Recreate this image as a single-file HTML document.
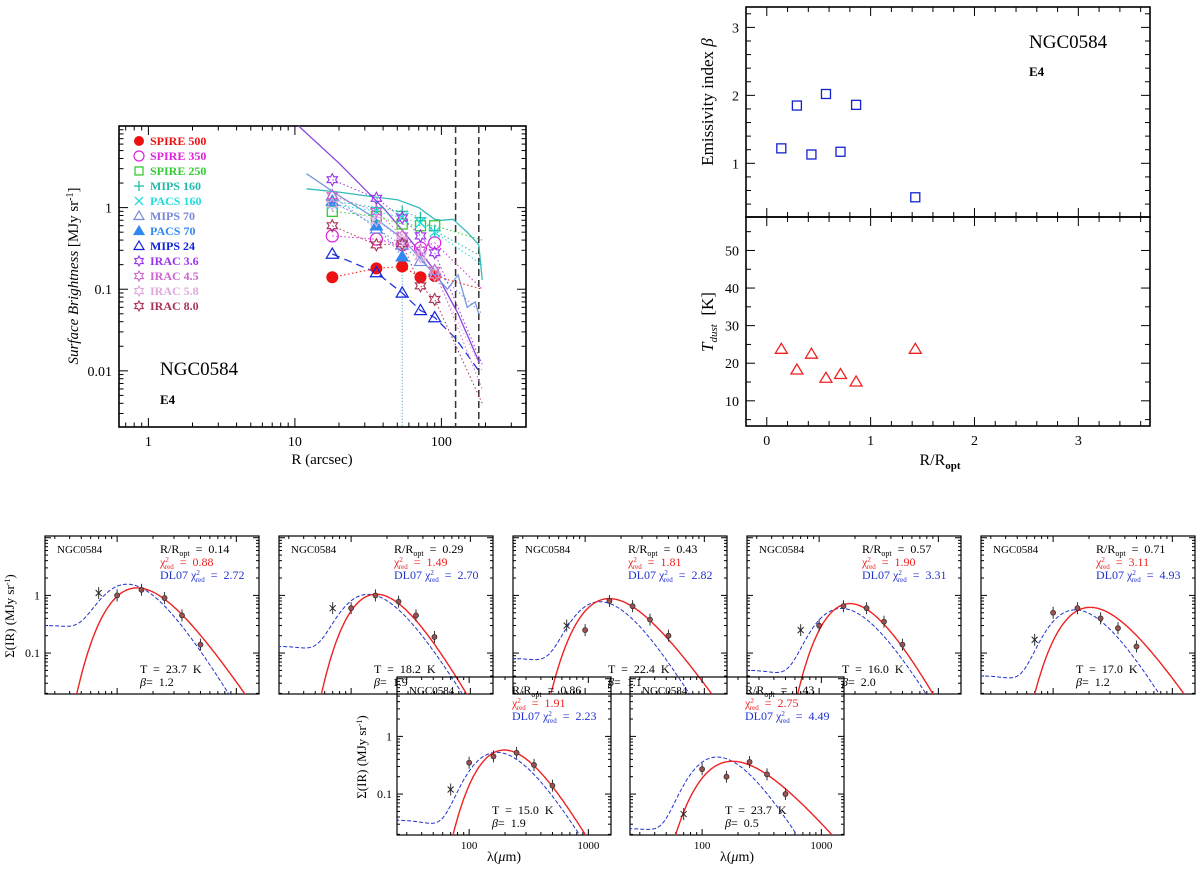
<!DOCTYPE html>
<html><head><meta charset="utf-8"><style>
html,body{margin:0;padding:0;background:#fff;overflow:hidden;width:1200px;height:869px}
svg{display:block}
text{font-family:"Liberation Serif",serif;white-space:pre}
</style></head><body>
<svg id="fig" width="1200" height="869" viewBox="0 0 1200 869" xmlns="http://www.w3.org/2000/svg"></svg>
<script>
// ---------- Left panel: radial profiles ----------
const profRadii = [18, 36, 54, 72, 90];
const spire500 = [0.14, 0.18, 0.19, 0.14, 0.145];
const spire350 = [0.45, 0.41, 0.35, 0.32, 0.37];
const spire250 = [0.9, 0.78, 0.63, 0.6, 0.6];
const mips160 = [1.2, 1.0, 0.9, 0.75, 0.52];
const pacs160 = [1.1, 0.9, 0.75, 0.65, 0.5];
const mips70 = [1.4, 0.55, 0.35, 0.22, 0.17];
const pacs70 = [1.2, 0.6, 0.25];
const mips24 = [0.27, 0.16, 0.09, 0.055, 0.045];
const irac36 = [2.2, 1.3, 0.75, 0.45, 0.28];
const irac45 = [1.4, 0.9, 0.45, 0.3, 0.17];
const irac58 = [1.1, 0.7, 0.4, 0.25, 0.15];
const irac80 = [0.6, 0.35, 0.36, 0.11, 0.075];
const purpleCurveR = [10, 20, 40, 54, 90, 130, 180];
const purpleCurveV = [11, 3.5, 1.0, 0.53, 0.17, 0.05, 0.013];
const cyanCurveR = [12, 20, 35, 50, 70, 90, 100, 120, 150, 180, 190];
const cyanCurveV = [1.7, 1.55, 1.35, 1.25, 1.0, 0.72, 0.7, 0.72, 0.5, 0.35, 0.13];
const blueCurveR = [12, 20, 35, 54, 70, 90, 110, 130, 150, 170, 180];
const blueCurveV = [2.6, 1.4, 0.75, 0.42, 0.25, 0.15, 0.1, 0.15, 0.06, 0.07, 0.05];
const mips24TailR = [90, 125, 180];
const mips24TailV = [0.045, 0.025, 0.01];
const apertureR = [125, 180];
// ---------- Right panels ----------
const radRatio = [0.14, 0.29, 0.43, 0.57, 0.71, 0.86, 1.43];
const betaVals = [1.22, 1.85, 1.13, 2.02, 1.17, 1.86, 0.5];
const tempVals = [23.7, 18.2, 22.4, 16.0, 17.0, 15.0, 23.7];
// ---------- SED panels ----------
const sedRopt = ["0.14", "0.29", "0.43", "0.57", "0.71", "0.86", "1.43"];
const sedChi = ["0.88", "1.49", "1.81", "1.90", "3.11", "1.91", "2.75"];
const sedDL = ["2.72", "2.70", "2.82", "3.31", "4.93", "2.23", "4.49"];
const sedT = [23.7, 18.2, 22.4, 16.0, 17.0, 15.0, 23.7];
const sedBeta = [1.2, 1.9, 1.1, 2.0, 1.2, 1.9, 0.5];
const sedPeak = [1.35, 1.05, 0.88, 0.72, 0.62, 0.58, 0.37];
const sedBluePeak = [1.45, 1.0, 0.75, 0.58, 0.55, 0.52, 0.43];
const sedBlueT = [25, 22, 23, 20, 20, 18, 23];
const sedFloor = [0.3, 0.13, 0.08, 0.05, 0.04, 0.035, 0.025];
const sedWave = [70, 100, 160, 250, 350, 500];
const sedObs1 = [1.1, 1.0, 1.25, 0.9, 0.45, 0.14];
const sedObs2 = [0.6, 0.6, 1.0, 0.78, 0.45, 0.19];
const sedObs3 = [0.3, 0.25, 0.8, 0.65, 0.38, 0.2];
const sedObs4 = [0.25, 0.3, 0.65, 0.6, 0.35, 0.14];
const sedObs5 = [0.17, 0.5, 0.6, 0.4, 0.27, 0.13];
const sedObs6 = [0.12, 0.35, 0.45, 0.52, 0.32, 0.14];
const sedObs7 = [0.045, 0.27, 0.2, 0.36, 0.22, 0.1];

const NS = "http://www.w3.org/2000/svg";
const svg = document.getElementById('fig');
function mk(tag, attrs, parent) {
  const e = document.createElementNS(NS, tag);
  for (const k in attrs) e.setAttribute(k, attrs[k]);
  (parent || svg).appendChild(e);
  return e;
}
function txt(s, x, y, opts, parent) {
  const t = mk('text', Object.assign({x: x, y: y, 'font-size': 12}, opts || {}), parent);
  t.textContent = s;
  return t;
}
function logScale(d0, d1, p0, p1) { return v => p0 + (Math.log10(v) - d0) / (d1 - d0) * (p1 - p0); }
function linScale(d0, d1, p0, p1) { return v => p0 + (v - d0) / (d1 - d0) * (p1 - p0); }

function logTicks(g, axis, lo, hi, scale, fixed, other, len, dir) {
  for (let e = Math.floor(lo) - 1; e <= Math.ceil(hi); e++) {
    for (let m = 1; m <= 9; m++) {
      const v = m * Math.pow(10, e);
      const lv = Math.log10(v);
      if (lv < lo - 1e-6 || lv > hi + 1e-6) continue;
      const p = scale(v);
      const L = m === 1 ? len : len / 2;
      if (axis === 'x') {
        mk('line', {x1: p, x2: p, y1: fixed, y2: fixed - L * dir, stroke: '#000', 'stroke-width': 1}, g);
        mk('line', {x1: p, x2: p, y1: other, y2: other + L * dir, stroke: '#000', 'stroke-width': 1}, g);
      } else {
        mk('line', {y1: p, y2: p, x1: fixed, x2: fixed + L * dir, stroke: '#000', 'stroke-width': 1}, g);
        mk('line', {y1: p, y2: p, x1: other, x2: other - L * dir, stroke: '#000', 'stroke-width': 1}, g);
      }
    }
  }
}

// ================= LEFT PANEL =================
{
  const L = 119, R = 526, T = 126, B = 427;
  const xs = logScale(Math.log10(0.63), Math.log10(378), L, R);
  const ys = logScale(Math.log10(0.00205), 1.0, B, T);
  const g = mk('g', {});
  
  
  const cp = mk('clipPath', {id: 'clipL'}, g);
  mk('rect', {x: L, y: T, width: R - L, height: B - T}, cp);
  const frame = mk('rect', {x: L, y: T, width: R - L, height: B - T, fill: 'none', stroke: '#000', 'stroke-width': 1.6}, g);
  
  
  logTicks(g, 'x', Math.log10(0.63), Math.log10(378), xs, B, T, 9, 1);
  logTicks(g, 'y', Math.log10(0.00205), 1.0, ys, L, R, 9, 1);
  [[1,'1'],[10,'10'],[100,'100']].forEach(([v,s]) => {
    const t = txt(s, xs(v), 446, {'text-anchor': 'middle', 'font-size': 14}, g);
    
    
  });
  [[1,'1'],[0.1,'0.1'],[0.01,'0.01']].forEach(([v,s]) => {
    const t = txt(s, 112, ys(v) + 5, {'text-anchor': 'end', 'font-size': 14}, g);
    
    
  });
  const xt = txt('R (arcsec)', 322, 464, {'text-anchor': 'middle', 'font-size': 15}, g);
  
  
  const yt = mk('text', {x: 0, y: 0, 'font-size': 15, 'text-anchor': 'middle', transform: 'translate(78,276) rotate(-90)'}, g);
  yt.innerHTML = '<tspan font-style="italic">Surface Brightness</tspan> [MJy sr<tspan dy="-5" font-size="10">-1</tspan><tspan dy="5">]</tspan>';
  
  
  const n1 = txt('NGC0584', 160, 375, {'font-size': 19}, g);
  
  
  const n2 = txt('E4', 160, 404, {'font-size': 13, 'font-weight': 'bold'}, g);
  
  

  const pg = mk('g', {'clip-path': 'url(#clipL)'}, g);
  function line(rs, vs, color, dash, w, name) {
    const d = rs.map((r, i) => (i ? 'L' : 'M') + xs(r).toFixed(1) + ',' + ys(vs[i]).toFixed(1)).join(' ');
    const p = mk('path', {d: d, fill: 'none', stroke: color, 'stroke-width': w || 1, 'stroke-dasharray': dash || 'none'}, pg);
    
    
  }
  apertureR.forEach(r => {
    const l = mk('line', {x1: xs(r), x2: xs(r), y1: T, y2: B, stroke: '#333', 'stroke-width': 1.5, 'stroke-dasharray': '7,4'}, pg);
    
    
  });
  const vc = mk('line', {x1: xs(54), x2: xs(54), y1: ys(0.25), y2: B, stroke: '#3399cc', 'stroke-width': 1, 'stroke-dasharray': '1,2'}, pg);
  
  
  line(purpleCurveR, purpleCurveV, '#8844dd', null, 1.3, 'irac36-profile-curve');
  line(cyanCurveR, cyanCurveV, '#33bbbb', null, 1.3, 'mips160-profile-curve');
  line(blueCurveR, blueCurveV, '#7799dd', null, 1.3, 'mips70-profile-curve');
  line(profRadii.concat(mips24TailR.slice(1)), mips24.concat(mips24TailV.slice(1)), '#2233dd', '8,5', 1.3, 'mips24-profile-line');

  const series = [
    {v: spire500, c: '#ee1111', m: 'dotfill', n: 'spire500', end: 0.1},
    {v: spire350, c: '#dd22dd', m: 'circle', n: 'spire350', end: 0.1},
    {v: spire250, c: '#33cc33', m: 'square', n: 'spire250', end: 0.4},
    {v: mips160, c: '#22bbaa', m: 'plus', n: 'mips160', end: 0.25},
    {v: pacs160, c: '#22dddd', m: 'cross', n: 'pacs160', end: 0.2},
    {v: mips70, c: '#7788dd', m: 'tri', n: 'mips70', end: 0.05},
    {v: pacs70, c: '#3388ee', m: 'trifill', n: 'pacs70', end: null},
    {v: mips24, c: '#1122dd', m: 'tri', n: 'mips24', end: null},
    {v: irac36, c: '#9933ee', m: 'star', n: 'irac36', end: 0.012},
    {v: irac45, c: '#cc66cc', m: 'star', n: 'irac45', end: 0.006},
    {v: irac58, c: '#ddaadd', m: 'star', n: 'irac58', end: 0.01},
    {v: irac80, c: '#aa3355', m: 'star', n: 'irac80', end: 0.004}
  ];
  function marker(m, x, y, c, par, s) {
    s = s || 6;
    let e;
    if (m === 'dotfill') e = mk('circle', {cx: x, cy: y, r: s, fill: c}, par);
    else if (m === 'circle') e = mk('circle', {cx: x, cy: y, r: s, fill: 'none', stroke: c, 'stroke-width': 1.2}, par);
    else if (m === 'square') e = mk('rect', {x: x - s + 1, y: y - s + 1, width: 2 * s - 2, height: 2 * s - 2, fill: 'none', stroke: c, 'stroke-width': 1.3}, par);
    else if (m === 'plus') e = mk('path', {d: `M${x-s},${y}H${x+s}M${x},${y-s}V${y+s}`, stroke: c, 'stroke-width': 1.3}, par);
    else if (m === 'cross') e = mk('path', {d: `M${x-s+1},${y-s+1}L${x+s-1},${y+s-1}M${x-s+1},${y+s-1}L${x+s-1},${y-s+1}`, stroke: c, 'stroke-width': 1.3}, par);
    else if (m === 'tri' || m === 'trifill') e = mk('polygon', {points: `${x},${y-s} ${x-s},${y+s*0.7} ${x+s},${y+s*0.7}`, fill: m === 'trifill' ? c : 'none', stroke: c, 'stroke-width': 1.2}, par);
    else {
      const pts = [];
      for (let k = 0; k < 12; k++) { const a = -Math.PI / 2 + k * Math.PI / 6; const rr = k % 2 ? s * 0.55 : s; pts.push((x + rr * Math.cos(a)).toFixed(1) + ',' + (y + rr * Math.sin(a)).toFixed(1)); }
      e = mk('polygon', {points: pts.join(' '), fill: 'none', stroke: c, 'stroke-width': 1.1}, par);
    }
    return e;
  }
  series.forEach(s => {
    const rs = profRadii.slice(0, s.v.length);
    if (s.n !== 'mips24') {
      const rr = s.end ? rs.concat([190]) : rs;
      const vv = s.end ? s.v.concat([s.end]) : s.v;
      line(rr, vv, s.c, '1.5,2.5', 1, s.n + '-dotted-line');
    }
    s.v.forEach((v, i) => {
      const e = marker(s.m, xs(rs[i]), ys(v), s.c, pg);
      
      
    });
  });
  const labels = ['SPIRE 500','SPIRE 350','SPIRE 250','MIPS 160','PACS 160','MIPS 70','PACS 70','MIPS 24','IRAC 3.6','IRAC 4.5','IRAC 5.8','IRAC 8.0'];
  const lg = mk('g', {}, g);
  
  
  labels.forEach((lab, i) => {
    const y = 141 + i * 15;
    const e = marker(series[i].m, 139, y, series[i].c, lg, 5);
    
    
    const t = txt(lab, 150, y + 4, {'font-size': 12, 'font-weight': 'bold', fill: series[i].c}, lg);
    
    
  });
}

// ================= RIGHT PANELS =================
{
  const L = 746, R = 1150, T = 7, M = 217, B = 426;
  const xs = linScale(-0.2, 3.69, L, R);
  const yb = linScale(0.21, 3.3, M, T);
  const yt = linScale(3.3, 58.9, B, M);
  const g = mk('g', {});
  
  
  [[T, M, 'beta-frame'], [M, B, 'tdust-frame']].forEach(([a, b, n]) => {
    const r = mk('rect', {x: L, y: a, width: R - L, height: b - a, fill: 'none', stroke: '#000', 'stroke-width': 1.6}, g);
    
    
  });
  for (let k = -1; k <= 18; k++) {
    const v = k * 0.2;
    const x = xs(v);
    const len = k % 5 === 0 ? 9 : 5;
    mk('line', {x1: x, x2: x, y1: B, y2: B - len, stroke: '#000'}, g);
    mk('line', {x1: x, x2: x, y1: M - len, y2: M + len, stroke: '#000'}, g);
    mk('line', {x1: x, x2: x, y1: T, y2: T + len, stroke: '#000'}, g);
  }
  for (let k = 2; k <= 16; k++) {
    const v = k * 0.2;
    const y = yb(v);
    const len = k % 5 === 0 ? 9 : 5;
    mk('line', {x1: L, x2: L + len, y1: y, y2: y, stroke: '#000'}, g);
    mk('line', {x1: R, x2: R - len, y1: y, y2: y, stroke: '#000'}, g);
  }
  for (let v = 5; v <= 55; v += 5) {
    const y = yt(v);
    const len = v % 10 === 0 ? 9 : 5;
    mk('line', {x1: L, x2: L + len, y1: y, y2: y, stroke: '#000'}, g);
    mk('line', {x1: R, x2: R - len, y1: y, y2: y, stroke: '#000'}, g);
  }
  [0, 1, 2, 3].forEach(v => {
    const t = txt(String(v), xs(v), 445, {'text-anchor': 'middle', 'font-size': 14}, g);
    
    
  });
  [1, 2, 3].forEach(v => {
    const t = txt(String(v), 739, yb(v) + 5, {'text-anchor': 'end', 'font-size': 14}, g);
    
    
  });
  [10, 20, 30, 40, 50].forEach(v => {
    const t = txt(String(v), 739, yt(v) + 5, {'text-anchor': 'end', 'font-size': 14}, g);
    
    
  });
  const xt = mk('text', {x: 940, y: 465, 'font-size': 16, 'text-anchor': 'middle'}, g);
  xt.innerHTML = 'R/R<tspan dy="4" font-size="11" font-weight="bold">opt</tspan>';
  
  
  const y1 = mk('text', {'font-size': 17, 'text-anchor': 'middle', transform: 'translate(713,102) rotate(-90)'}, g);
  y1.innerHTML = 'Emissivity index <tspan font-style="italic">β</tspan>';
  
  
  const y2 = mk('text', {'font-size': 17, 'text-anchor': 'middle', transform: 'translate(713,322) rotate(-90)'}, g);
  y2.innerHTML = '<tspan font-style="italic">T</tspan><tspan dy="4" font-size="11" font-style="italic">dust</tspan><tspan dy="-4">  [K]</tspan>';
  
  
  const n1 = txt('NGC0584', 1029, 48, {'font-size': 19}, g);
  
  
  const n2 = txt('E4', 1029, 76, {'font-size': 13, 'font-weight': 'bold'}, g);
  
  
  radRatio.forEach((r, i) => {
    const x = xs(r), y = yb(betaVals[i]);
    const s = mk('rect', {x: x - 4.5, y: y - 4.5, width: 9, height: 9, fill: 'none', stroke: '#1122cc', 'stroke-width': 1.3}, g);
    
    
    const ty = yt(tempVals[i]);
    const tr = mk('polygon', {points: `${x},${ty-6} ${x-6},${ty+4} ${x+6},${ty+4}`, fill: 'none', stroke: '#ee2222', 'stroke-width': 1.3}, g);
    
    
  });
}

// ================= SED PANELS =================
const sedObs = [sedObs1, sedObs2, sedObs3, sedObs4, sedObs5, sedObs6, sedObs7];
const panelPos = [[45, 536], [279, 536], [513, 536], [747, 536], [981, 536], [397, 677], [630, 677]];
function mbb(l, T, b) { return Math.pow(l, -(3 + b)) / (Math.exp(14388 / (l * T)) - 1); }
panelPos.forEach(([px, py], i) => {
  const W = 214, H = 158;
  const xs = logScale(1.395, 3.19, px, px + W);
  const ys = logScale(-1.71, 1.03, py + H, py);
  const g = mk('g', {});
  
  
  const cp = mk('clipPath', {id: 'cs' + i}, g);
  mk('rect', {x: px, y: py, width: W, height: H}, cp);
  const fr = mk('rect', {x: px, y: py, width: W, height: H, fill: 'none', stroke: '#000', 'stroke-width': 1.2}, g);
  
  
  logTicks(g, 'x', 1.395, 3.19, xs, py + H, py, 6, 1);
  logTicks(g, 'y', -1.71, 1.03, ys, px, px + W, 6, 1);
  const pg = mk('g', {'clip-path': `url(#cs${i})`}, g);
  const lam = [];
  for (let k = 0; k <= 240; k++) lam.push(Math.pow(10, 1.38 + k * 1.85 / 240));
  const red = lam.map(l => mbb(l, sedT[i], sedBeta[i]));
  const rmax = Math.max.apply(null, red);
  const blue = lam.map(l => mbb(l, sedBlueT[i], 1.7));
  const bmax = Math.max.apply(null, blue);
  const dRed = lam.map((l, k) => (k ? 'L' : 'M') + xs(l).toFixed(1) + ',' + ys(Math.max(1e-4, red[k] / rmax * sedPeak[i])).toFixed(1)).join(' ');
  const dBlue = lam.map((l, k) => {
    const g2 = Math.exp(-Math.pow((Math.log10(l) - 1.4) / 0.7, 2));
    const v = blue[k] / bmax * sedBluePeak[i] + sedFloor[i] * g2;
    return (k ? 'L' : 'M') + xs(l).toFixed(1) + ',' + ys(Math.max(1e-4, v)).toFixed(1);
  }).join(' ');
  const pb = mk('path', {d: dBlue, fill: 'none', stroke: '#2233cc', 'stroke-width': 1, 'stroke-dasharray': '4,2'}, pg);
  
  
  const pr = mk('path', {d: dRed, fill: 'none', stroke: '#ee2222', 'stroke-width': 1.4}, pg);
  
  
  sedWave.forEach((w, k) => {
    const x = xs(w), y = ys(sedObs[i][k]);
    const eb = mk('line', {x1: x, x2: x, y1: y - 6, y2: y + 6, stroke: '#333', 'stroke-width': 1}, pg);
    
    
    let m;
    if (k === 0) m = mk('path', {d: `M${x-3},${y-3}L${x+3},${y+3}M${x-3},${y+3}L${x+3},${y-3}`, stroke: '#222', 'stroke-width': 1}, pg);
    else m = mk('circle', {cx: x, cy: y, r: 2.5, fill: '#a05050', stroke: '#333', 'stroke-width': 0.8}, pg);
    
    
  });
  const a = txt('NGC0584', px + 12, py + 17, {'font-size': 11}, g);
  
  
  const b = mk('text', {x: px + 115, y: py + 17, 'font-size': 12}, g);
  b.innerHTML = 'R/R<tspan dy="3" font-size="8">opt</tspan><tspan dy="-3">  =  ' + sedRopt[i] + '</tspan>';
  
  
  const c = mk('text', {x: px + 115, y: py + 30, 'font-size': 12, fill: '#ee2222'}, g);
  c.innerHTML = 'χ<tspan dy="-4" font-size="7">2</tspan><tspan dx="-4" dy="7" font-size="7">red</tspan><tspan dy="-3">  =  ' + sedChi[i] + '</tspan>';
  
  
  const d = mk('text', {x: px + 115, y: py + 43, 'font-size': 12, fill: '#2233cc'}, g);
  d.innerHTML = 'DL07 χ<tspan dy="-4" font-size="7">2</tspan><tspan dx="-4" dy="7" font-size="7">red</tspan><tspan dy="-3">  =  ' + sedDL[i] + '</tspan>';
  
  
  const e = txt('T  =  ' + sedT[i].toFixed(1) + '  K', px + 95, py + 137, {'font-size': 12}, g);
  
  
  const f = mk('text', {x: px + 95, y: py + 150, 'font-size': 12}, g);
  f.innerHTML = '<tspan font-style="italic">β</tspan>=  ' + sedBeta[i].toFixed(1);
  
  
  if (i === 0 || i === 5) {
    [[1, '1'], [0.1, '0.1']].forEach(([v, s]) => {
      const t = txt(s, px - 5, ys(v) + 4, {'text-anchor': 'end', 'font-size': 12}, g);
      
      
    });
    const yt = mk('text', {'font-size': 13, 'text-anchor': 'middle', transform: `translate(${px - 31},${py + 80}) rotate(-90)`}, g);
    yt.innerHTML = 'Σ(IR) (MJy sr<tspan dy="-4" font-size="8">-1</tspan><tspan dy="4">)</tspan>';
    
    
  }
  if (i >= 5) {
    [[100, '100'], [1000, '1000']].forEach(([v, s]) => {
      const t = txt(s, xs(v), py + H + 14, {'text-anchor': 'middle', 'font-size': 11}, g);
      
      
    });
    const xt = mk('text', {x: px + W / 2, y: py + H + 26, 'font-size': 14, 'text-anchor': 'middle'}, g);
    xt.innerHTML = 'λ(<tspan font-style="italic">μ</tspan>m)';
    
    
  }
});
</script>
</body></html>
